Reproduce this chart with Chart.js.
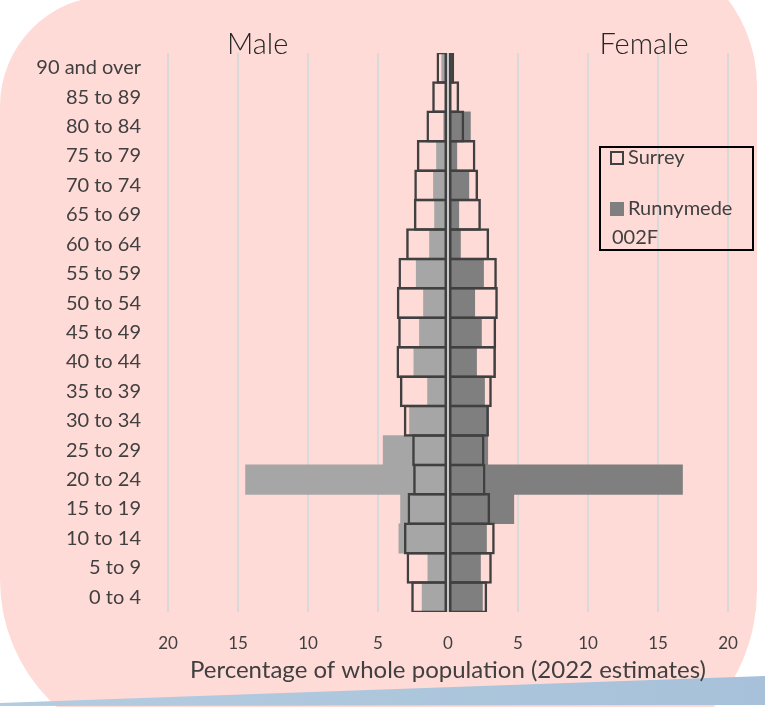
<!DOCTYPE html>
<html>
<head>
<meta charset="utf-8">
<title>Population pyramid</title>
<script src="https://cdn.jsdelivr.net/npm/chart.js@4.4.1/dist/chart.umd.min.js"></script>
<style>
  html, body { margin: 0; padding: 0; background: #fff; }
  #wrap { width: 765px; height: 707px; position: relative; }
</style>
</head>
<body>
<div id="wrap"><canvas id="myChart" width="765" height="707"></canvas></div>
<script>
// age bands, top of the pyramid first
var ageGroups = ['90 and over', '85 to 89', '80 to 84', '75 to 79', '70 to 74', '65 to 69',
  '60 to 64', '55 to 59', '50 to 54', '45 to 49', '40 to 44', '35 to 39', '30 to 34',
  '25 to 29', '20 to 24', '15 to 19', '10 to 14', '5 to 9', '0 to 4'];

// % of whole population, Surrey (outline boxes)
var surreyMale   = [0.82, 1.13, 1.54, 2.23, 2.41, 2.44, 2.99, 3.54, 3.66, 3.56, 3.68, 3.44, 3.16, 2.56, 2.49, 2.89, 3.15, 2.96, 2.63];
var surreyFemale = [0.44, 0.80, 1.16, 1.96, 2.15, 2.35, 2.94, 3.49, 3.56, 3.44, 3.42, 3.13, 2.92, 2.61, 2.68, 3.01, 3.34, 3.13, 2.80];

// % of whole population, Runnymede 002F (grey bars)
var runnyMale   = [0.45, 0, 0.32, 0.82, 1.04, 0.96, 1.32, 2.27, 1.75, 2.04, 2.44, 1.46, 2.75, 4.63, 14.46, 3.39, 3.51, 1.44, 1.85];
var runnyFemale = [0.40, 0, 1.60, 0.63, 1.49, 0.77, 0.89, 2.54, 1.91, 2.39, 2.04, 2.61, 2.90, 2.84, 16.75, 4.70, 2.75, 2.32, 2.46];

var xTicks = [-20, -15, -10, -5, 0, 5, 10, 15, 20];
var seriesNames = ['Surrey', 'Runnymede 002F'];
var sideTitles = ['Male', 'Female'];
var axisTitle = 'Percentage of whole population (2022 estimates)';

var FONT = "Lato, 'Open Sans', sans-serif";
var TEXT = '#404040';

function neg(arr) {
  return arr.map(function (v) { return -v; });
}

// pink rounded card + blue strip at the bottom
var backdrop = {
  id: 'backdrop',
  beforeDraw: function (chart) {
    var ctx = chart.ctx;
    ctx.save();
    ctx.fillStyle = '#ffffff';
    ctx.fillRect(0, 0, chart.width, chart.height);

    ctx.beginPath();
    ctx.arc(110, 106, 110, Math.PI, Math.PI * 1.5);
    ctx.arc(614, 86, 143, Math.PI * 1.5, Math.PI * 2);
    ctx.arc(577, 590, 180, 0, Math.PI * 0.5);
    ctx.arc(170, 580, 170, Math.PI * 0.5, Math.PI);
    ctx.closePath();
    ctx.fillStyle = '#ffdbd8';
    ctx.fill();

    ctx.beginPath();
    ctx.moveTo(0, 703);
    ctx.lineTo(chart.width, 676);
    ctx.lineTo(chart.width, 705);
    ctx.lineTo(0, 706);
    ctx.closePath();
    var g = ctx.createLinearGradient(0, 0, chart.width, 0);
    g.addColorStop(0, '#b4cce0');
    g.addColorStop(1, '#a6c1d9');
    ctx.fillStyle = g;
    ctx.fill();
    ctx.restore();
  }
};

// zero line sits over the bars
var centreLine = {
  id: 'centreLine',
  afterDatasetsDraw: function (chart) {
    var ctx = chart.ctx;
    var a = chart.chartArea;
    var x0 = chart.scales.x.getPixelForValue(0);
    ctx.save();
    ctx.strokeStyle = '#c8c8c8';
    ctx.lineWidth = 2;
    ctx.beginPath();
    ctx.moveTo(x0, a.top);
    ctx.lineTo(x0, a.bottom);
    ctx.stroke();
    ctx.restore();
  }
};

// Male / Female headings and the boxed legend
var extras = {
  id: 'extras',
  afterDraw: function (chart) {
    var ctx = chart.ctx;
    var x = chart.scales.x;
    ctx.save();
    ctx.fillStyle = '#262626';
    ctx.font = '300 29px ' + FONT;
    ctx.textAlign = 'center';
    ctx.textBaseline = 'middle';
    ctx.fillText(sideTitles[0], x.getPixelForValue(-13.6), 45);
    ctx.fillText(sideTitles[1], x.getPixelForValue(14), 45);

    // legend
    ctx.strokeStyle = '#000000';
    ctx.lineWidth = 2;
    ctx.strokeRect(600, 147, 153, 103);

    var ds = chart.data.datasets;
    ctx.strokeStyle = ds[0].borderColor;
    ctx.lineWidth = 2;
    ctx.strokeRect(611, 152, 12, 12);
    ctx.fillStyle = ds[3].backgroundColor;
    ctx.fillRect(610, 202, 14, 14);

    ctx.fillStyle = TEXT;
    ctx.font = '20px ' + FONT;
    ctx.textAlign = 'left';
    var words = seriesNames[1].split(' ');
    ctx.fillText(seriesNames[0], 628, 158);
    ctx.fillText(words[0], 628, 209);
    ctx.fillText(words[1], 612, 238);
    ctx.restore();
  }
};

var ctx = document.getElementById('myChart').getContext('2d');
var chart = new Chart(ctx, {
  type: 'bar',
  data: {
    labels: ageGroups,
    datasets: [{
      label: seriesNames[0],
      data: neg(surreyMale),
      backgroundColor: 'rgba(0,0,0,0)',
      borderColor: '#404040',
      borderWidth: 2.5,
      borderSkipped: false,
      barPercentage: 1.085,
      order: 0
    }, {
      label: seriesNames[0],
      data: surreyFemale,
      backgroundColor: 'rgba(0,0,0,0)',
      borderColor: '#404040',
      borderWidth: 2.5,
      borderSkipped: false,
      barPercentage: 1.085,
      order: 0
    }, {
      label: seriesNames[1],
      data: neg(runnyMale),
      backgroundColor: '#a6a6a6',
      borderWidth: 0,
      barPercentage: 1,
      order: 1
    }, {
      label: seriesNames[1],
      data: runnyFemale,
      backgroundColor: '#7f7f7f',
      borderWidth: 0,
      barPercentage: 1,
      order: 1
    }]
  },
  options: {
    indexAxis: 'y',
    responsive: false,
    animation: false,
    devicePixelRatio: 1,
    layout: { padding: { top: 53, right: 37, bottom: 0, left: 0 } },
    datasets: { bar: { grouped: false, categoryPercentage: 1 } },
    plugins: {
      legend: { display: false },
      tooltip: { enabled: false }
    },
    scales: {
      x: {
        min: xTicks[0],
        max: xTicks[xTicks.length - 1],
        afterBuildTicks: function (scale) {
          scale.ticks = xTicks.map(function (v) { return { value: v }; });
        },
        afterFit: function (scale) { scale.height = 95; },
        grid: { color: '#d9d9d9', lineWidth: 2, drawTicks: false },
        border: { display: false },
        ticks: {
          padding: 21,
          color: TEXT,
          font: { family: FONT, size: 17 },
          callback: function (v) { return Math.abs(v); }
        },
        title: {
          display: true,
          text: axisTitle,
          color: TEXT,
          font: { family: FONT, size: 24 },
          padding: { top: 0, bottom: 22 }
        }
      },
      y: {
        afterFit: function (scale) { scale.width = 168; },
        grid: { display: false },
        border: { display: false },
        ticks: {
          padding: 19,
          color: TEXT,
          font: { family: FONT, size: 20 }
        }
      }
    }
  },
  plugins: [backdrop, centreLine, extras]
});
</script>
</body>
</html>
